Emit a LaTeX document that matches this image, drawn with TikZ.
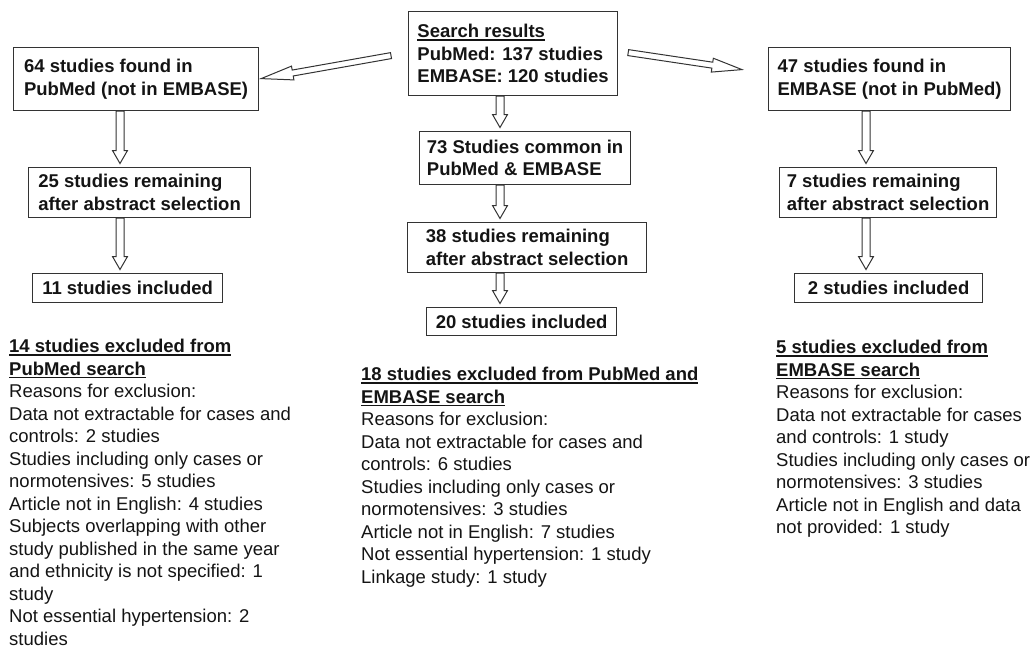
\documentclass[tikz,border=0pt]{standalone}
\usepackage{fontspec}
\setmainfont{Liberation Sans}
\usetikzlibrary{calc}

\newcommand{\ulhead}[1]{\sbox0{#1}\rlap{\rule[-3pt]{\wd0}{1.4pt}}\usebox0}

\tikzset{
  box/.style={rectangle, draw=black!80, line width=1.2pt, anchor=north west,
    align=left, inner xsep=2pt, inner ysep=0pt, text=black!92,
    font=\fontsize{18.5}{22.5}\selectfont\bfseries},
  reasons/.style={anchor=north west, align=left, inner sep=0pt, text=black!92,
    font=\fontsize{18.5}{22.5}\selectfont},
  hollow/.style={fill=white, draw=black!80, line width=1pt, line join=miter},
  arrshaft/.store in=\arrshaft, arrhead/.store in=\arrhead,
  arrheadlen/.store in=\arrheadlen, arrgap/.store in=\arrgap,
  arrshaft=4pt, arrhead=7.5pt, arrheadlen=13pt, arrgap=3.5pt
}

% open block arrow from #2 to #3
\newcommand{\hollowarrow}[3][]{%
  \draw[hollow,#1] let \p1=(#2), \p2=(#3),
      \n1={atan2(\y2-\y1,\x2-\x1)},
      \n2={veclen(\x2-\x1,\y2-\y1)-\arrgap} in
    [shift={(\p1)}, rotate=\n1]
    (0,-\arrshaft) -- ({\n2-\arrheadlen},-\arrshaft) -- ({\n2-\arrheadlen},-\arrhead)
    -- (\n2,0) -- ({\n2-\arrheadlen},\arrhead) -- ({\n2-\arrheadlen},\arrshaft)
    -- (0,\arrshaft) -- cycle;
}

\begin{document}
\begin{tikzpicture}[x=1pt,y=1pt]
  \useasboundingbox (0,0) rectangle (1034,-648);

  % boxes
  \node[box, minimum width=209pt, minimum height=84pt] (search) at (408,-11)
    {\ulhead{Search results}\\PubMed: 137 studies\\EMBASE: 120 studies};

  \node[box, minimum width=245pt, minimum height=63pt] (pm) at (13,-47)
    {64 studies found in\\PubMed (not in EMBASE)};
  \node[box, minimum width=222pt, minimum height=50pt] (pmsel) at (28,-167)
    {25 studies remaining\\after abstract selection};
  \node[box, minimum width=190pt, minimum height=29pt] (pminc) at (32,-273)
    {11 studies included};

  \node[box, minimum width=211pt, minimum height=53pt] (com) at (419,-131)
    {73 Studies common in\\PubMed \& EMBASE};
  \node[box, minimum width=239pt, minimum height=50pt] (comsel) at (407,-222)
    {38 studies remaining\\after abstract selection};
  \node[box, minimum width=190pt, minimum height=28pt] (cominc) at (426,-307)
    {20 studies included};

  \node[box, minimum width=242pt, minimum height=63pt] (ep) at (768,-47)
    {47 studies found in\\EMBASE (not in PubMed)};
  \node[box, minimum width=217pt, minimum height=50pt] (epsel) at (779,-167)
    {7 studies remaining\\after abstract selection};
  \node[box, minimum width=188pt, minimum height=29pt] (epinc) at (794,-273)
    {2 studies included};

  % exclusion notes
  \node[reasons] (pmex) at (9,-339)
    {\textbf{\ulhead{14 studies excluded from}}\\
     \textbf{\ulhead{PubMed search}}\\
     Reasons for exclusion:\\
     Data not extractable for cases and\\
     controls: 2 studies\\
     Studies including only cases or\\
     normotensives: 5 studies\\
     Article not in English: 4 studies\\
     Subjects overlapping with other\\
     study published in the same year\\
     and ethnicity is not specified: 1\\
     study\\
     Not essential hypertension: 2\\
     studies};
  \node[reasons] (comex) at (361,-367)
    {\textbf{\ulhead{18 studies excluded from PubMed and}}\\
     \textbf{\ulhead{EMBASE search}}\\
     Reasons for exclusion:\\
     Data not extractable for cases and\\
     controls: 6 studies\\
     Studies including only cases or\\
     normotensives: 3 studies\\
     Article not in English: 7 studies\\
     Not essential hypertension: 1 study\\
     Linkage study: 1 study};
  \node[reasons] (epex) at (776,-340)
    {\textbf{\ulhead{5 studies excluded from}}\\
     \textbf{\ulhead{EMBASE search}}\\
     Reasons for exclusion:\\
     Data not extractable for cases\\
     and controls: 1 study\\
     Studies including only cases or\\
     normotensives: 3 studies\\
     Article not in English and data\\
     not provided: 1 study};

  % arrows
  \coordinate (lx) at (120,0);
  \coordinate (mx) at (500,0);
  \coordinate (rx) at (866,0);

  \hollowarrow[arrshaft=3pt, arrhead=7pt, arrheadlen=32pt, arrgap=0pt]
    {$(search.west)+(-17,-2)$}{$(pm.east)+(2,0.5)$}
  \hollowarrow[arrshaft=3pt, arrhead=7pt, arrheadlen=30pt, arrgap=0pt]
    {$(search.east)+(10,1)$}{$(ep.west)+(-26,9.5)$}

  \hollowarrow{pm.south -| lx}{pmsel.north -| lx}
  \hollowarrow{pmsel.south -| lx}{pminc.north -| lx}
  \hollowarrow{search.south -| mx}{com.north -| mx}
  \hollowarrow{com.south -| mx}{comsel.north -| mx}
  \hollowarrow{comsel.south -| mx}{cominc.north -| mx}
  \hollowarrow{ep.south -| rx}{epsel.north -| rx}
  \hollowarrow{epsel.south -| rx}{epinc.north -| rx}
\end{tikzpicture}
\end{document}
